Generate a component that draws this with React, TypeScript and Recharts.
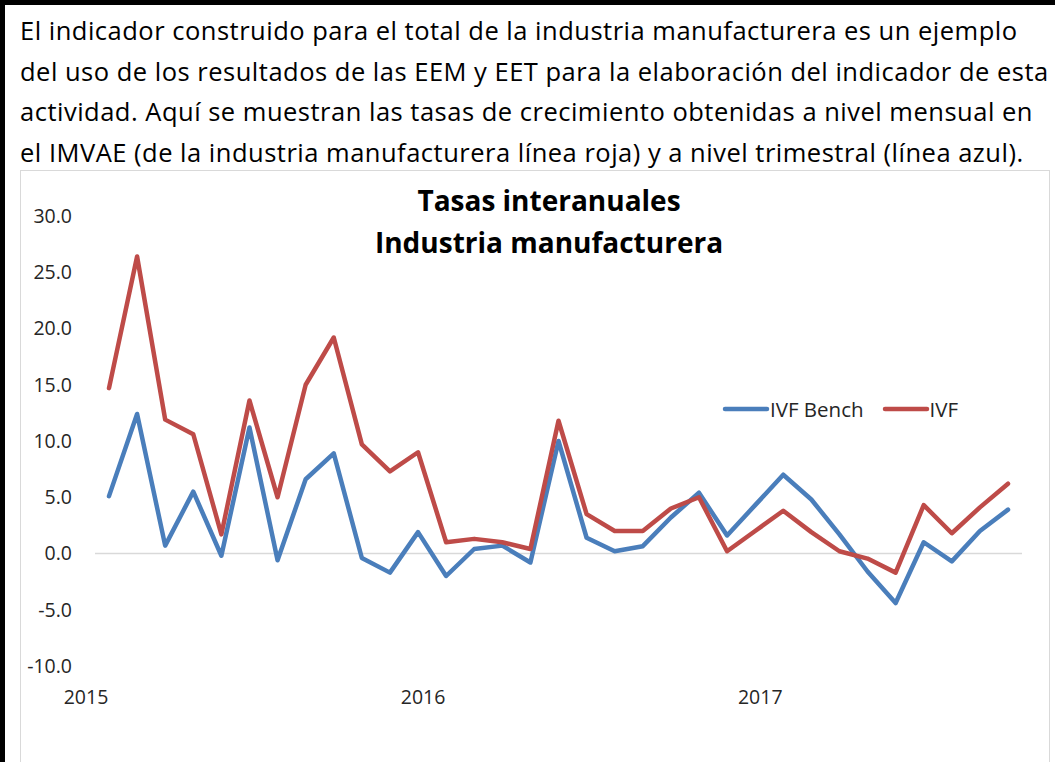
import { LineChart, Line, XAxis, YAxis, ReferenceLine } from "recharts"

const months = [
  "2015-01", "2015-02", "2015-03", "2015-04", "2015-05", "2015-06", "2015-07", "2015-08", "2015-09", "2015-10", "2015-11", "2015-12",
  "2016-01", "2016-02", "2016-03", "2016-04", "2016-05", "2016-06", "2016-07", "2016-08", "2016-09", "2016-10", "2016-11", "2016-12",
  "2017-01", "2017-02", "2017-03", "2017-04", "2017-05", "2017-06", "2017-07", "2017-08", "2017-09",
]

const ivfBench = [
  5.1, 12.4, 0.7, 5.5, -0.2, 11.2, -0.6, 6.6, 8.9, -0.4, -1.7, 1.9,
  -2.0, 0.4, 0.7, -0.8, 10.0, 1.4, 0.2, 0.65, 3.2, 5.4, 1.6, 4.3,
  7.0, 4.8, 1.7, -1.6, -4.4, 1.0, -0.7, 2.0, 3.9,
]

const ivf = [
  14.7, 26.4, 11.9, 10.6, 1.7, 13.6, 5.0, 15.0, 19.2, 9.7, 7.3, 9.0,
  1.0, 1.3, 1.0, 0.4, 11.8, 3.5, 2.0, 2.0, 4.0, 5.0, 0.2, 2.0,
  3.8, 1.9, 0.2, -0.45, -1.7, 4.3, 1.8, 4.1, 6.2,
]

const yearTicks = ["2015-01", "2016-01", "2017-01"]
const yTicks = [-10, -5, 0, 5, 10, 15, 20, 25, 30]

const paragraph = [
  "El indicador construido para el total de la industria manufacturera es un ejemplo",
  "del uso de los resultados de las EEM y EET para la elaboración del indicador de esta",
  "actividad. Aquí se muestran las tasas de crecimiento obtenidas a nivel mensual en",
  "el IMVAE (de la industria manufacturera línea roja) y a nivel trimestral (línea azul).",
]

const BLUE = "#4a7ebb"
const RED = "#be4b48"
const FONT = "'Open Sans', 'Noto Sans', sans-serif"

const data = months.map((m, i) => ({ month: m, bench: ivfBench[i], ivf: ivf[i] }))

function YearTick({ x, y, payload }: any) {
  return (
    <text x={x - 23} y={y + 30} textAnchor="middle" fill="#262626" fontSize={19.5} fontFamily={FONT}>
      {String(payload.value).slice(0, 4)}
    </text>
  )
}

// legend drawn as plain html next to the plot, like the excel one
function LegendBox() {
  const items = [
    { label: "IVF Bench", color: BLUE },
    { label: "IVF", color: RED },
  ]
  return (
    <div style={{ position: "absolute", left: 722, top: 395, display: "flex", alignItems: "center", fontFamily: FONT, fontSize: 20.5, color: "#262626" }}>
      {items.map((it) => (
        <div key={it.label} style={{ display: "flex", alignItems: "center", marginRight: 18 }}>
          <svg width={48} height={10}>
            <line x1={3} y1={5} x2={45} y2={5} stroke={it.color} strokeWidth={4.5} strokeLinecap="round" />
          </svg>
          <span>{it.label}</span>
        </div>
      ))}
    </div>
  )
}

export default function App() {
  return (
    <div style={{ position: "absolute", left: 0, top: 0, width: 1055, height: 762, background: "#fff", overflow: "hidden" }}>
      <div style={{ position: "absolute", left: 0, top: 0, width: 1055, height: 762, borderLeft: "5px solid #000", borderTop: "5px solid #000", boxSizing: "border-box" }} />
      <div style={{ position: "absolute", left: 20, top: 10, fontFamily: FONT, fontSize: 25.5, letterSpacing: "0.5px", lineHeight: "40.5px", color: "#000", whiteSpace: "nowrap" }}>
        {paragraph.map((line) => (
          <div key={line}>{line}</div>
        ))}
      </div>
      <div style={{ position: "absolute", left: 20, top: 170, width: 1030, height: 600, border: "1px solid #d9d9d9", boxSizing: "border-box" }} />
      <div style={{ position: "absolute", left: 20, top: 179, width: 1058, textAlign: "center", fontFamily: FONT, fontWeight: 700, fontSize: 28, lineHeight: "42px", color: "#000" }}>
        <div>Tasas interanuales</div>
        <div>Industria manufacturera</div>
      </div>
      <div style={{ position: "absolute", left: 20, top: 170 }}>
        <LineChart width={1030} height={592} data={data} margin={{ top: 46, right: 28, left: 0, bottom: 56 }}>
          <XAxis
            dataKey="month"
            ticks={yearTicks}
            interval={0}
            axisLine={false}
            tickLine={false}
            padding={{ left: 14, right: 14 }}
            height={40}
            tick={<YearTick />}
          />
          <YAxis
            domain={[-10, 30]}
            ticks={yTicks}
            width={75}
            axisLine={false}
            tickLine={false}
            tickMargin={17}
            tickFormatter={(v: number) => v.toFixed(1)}
            tick={{ fill: "#262626", fontSize: 19.5, fontFamily: FONT }}
          />
          <ReferenceLine y={0} stroke="#d9d9d9" strokeWidth={1.5} />
          <Line type="linear" dataKey="bench" name="IVF Bench" stroke={BLUE} strokeWidth={4.5} dot={false} strokeLinejoin="round" strokeLinecap="round" isAnimationActive={false} />
          <Line type="linear" dataKey="ivf" name="IVF" stroke={RED} strokeWidth={4.5} dot={false} strokeLinejoin="round" strokeLinecap="round" isAnimationActive={false} />
        </LineChart>
      </div>
      <LegendBox />
    </div>
  )
}
